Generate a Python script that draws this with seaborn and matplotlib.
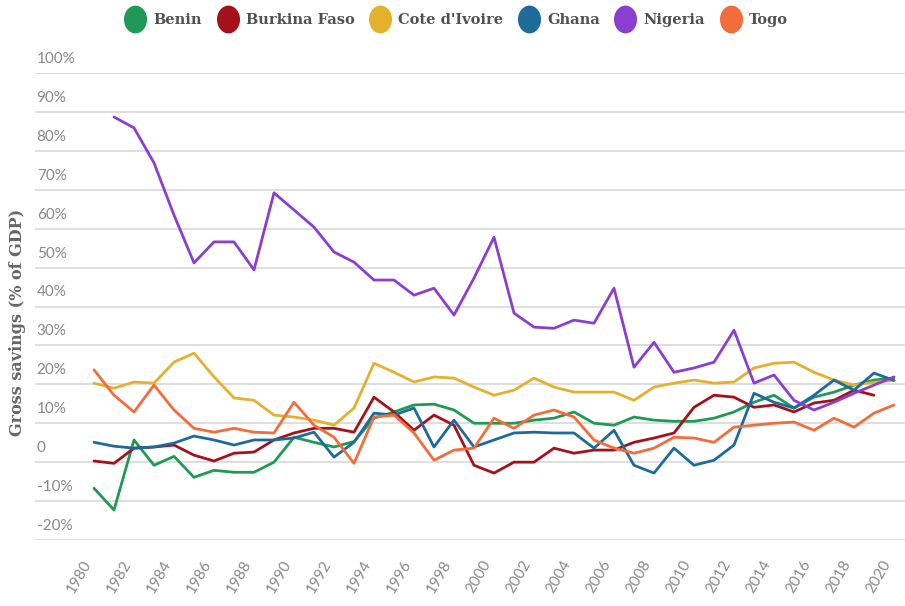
import matplotlib
matplotlib.use("Agg")
import matplotlib.pyplot as plt
import matplotlib.transforms as mtransforms
from matplotlib.lines import Line2D
from matplotlib.markers import MarkerStyle
import numpy as np
import pandas as pd
import seaborn as sns

years = list(range(1980, 2021))
countries = ["Benin", "Burkina Faso", "Cote d'Ivoire", "Ghana", "Nigeria", "Togo"]
colors = ["#1f9a55", "#a3121b", "#e3b12c", "#1d6b99", "#8a3fd1", "#f36c3c"]

nan = np.nan
benin = [-6.7, -12.3, 5.7, -0.8, 1.5, -3.9, -2.1, -2.6, -2.6, 0.0,
         6.4, 5.1, 3.9, 5.3, 11.3, 12.9, 14.7, 14.9, 13.4, 10.0,
         10.0, 10.0, 10.8, 11.3, 12.9, 10.0, 9.5, 11.6, 10.8, 10.5,
         10.5, 11.3, 12.9, 15.4, 17.2, 13.9, 16.7, 18.0, 19.8, 21.1, 21.6]
burkina = [0.3, -0.3, 3.6, 3.9, 4.4, 1.8, 0.3, 2.3, 2.6, 5.7,
           7.5, 8.7, 8.7, 7.7, 16.7, 12.9, 8.2, 12.1, 9.5, -0.8,
           -2.8, 0.0, 0.0, 3.6, 2.3, 3.1, 3.1, 5.1, 6.2, 7.5,
           14.1, 17.2, 16.7, 14.1, 14.7, 12.9, 15.2, 15.9, 18.5, 17.2, nan]
cote = [20.3, 19.0, 20.6, 20.3, 25.7, 28.0, 21.9, 16.5, 15.9, 12.1,
        11.6, 10.8, 9.5, 13.9, 25.4, 23.1, 20.6, 21.9, 21.6, 19.3,
        17.2, 18.5, 21.6, 19.3, 18.0, 18.0, 18.0, 15.9, 19.3, 20.3,
        21.1, 20.3, 20.6, 24.2, 25.4, 25.7, 23.1, 21.1, 19.8, 20.5, 21.0]
ghana = [5.1, 4.1, 3.6, 3.9, 4.9, 6.7, 5.7, 4.4, 5.7, 5.7,
         6.2, 7.7, 1.3, 5.1, 12.6, 12.1, 13.9, 3.9, 10.8, 3.9,
         5.7, 7.5, 7.7, 7.5, 7.5, 3.6, 8.2, -0.8, -2.8, 3.6,
         -0.8, 0.5, 4.4, 17.7, 15.4, 13.9, 17.2, 21.1, 18.5, 22.9, 21.0]
nigeria = [nan, 88.7, 85.9, 76.9, 63.5, 51.2, 56.6, 56.6, 49.4, 69.2,
           64.8, 60.4, 54.0, 51.4, 46.8, 46.8, 42.9, 44.7, 37.8, 47.3,
           57.8, 38.3, 34.7, 34.4, 36.5, 35.7, 44.7, 24.4, 30.8, 23.1,
           24.2, 25.7, 33.9, 20.3, 22.4, 15.9, 13.4, 15.4, 17.7, 19.8, 21.9]
togo = [23.7, 17.2, 12.9, 19.8, 13.4, 8.7, 7.7, 8.7, 7.7, 7.5,
        15.4, 9.5, 6.4, -0.3, 11.6, 12.1, 7.5, 0.5, 3.1, 3.6,
        11.3, 8.7, 12.1, 13.4, 11.6, 5.7, 3.6, 2.3, 3.6, 6.4,
        6.2, 5.1, 9.0, 9.5, 10.0, 10.3, 8.2, 11.3, 9.0, 12.6, 14.7]

y_ticks = [-20, -10, 0, 10, 20, 30, 40, 50, 60, 70, 80, 90, 100]
y_tick_labels = ["-20%", "-10%", "0", "10%", "20%", "30%", "40%", "50%",
                 "60%", "70%", "80%", "90%", "100%"]
x_ticks = list(range(1980, 2021, 2))
x_tick_labels = [str(y) for y in x_ticks]

series = [benin, burkina, cote, ghana, nigeria, togo]
rows = []
for name, vals in zip(countries, series):
    for yr, v in zip(years, vals):
        rows.append({"year": yr, "value": v, "country": name})
df = pd.DataFrame(rows).dropna()

sns.set_style("white")
fig = plt.figure(figsize=(9.05, 6.06), dpi=100)
W, H = 905, 606
ax = fig.add_axes([35 / W, 1 - 540 / H, 1 - 35 / W, (540 - 73) / H])

sns.lineplot(data=df, x="year", y="value", hue="country", hue_order=countries,
             palette=colors, linewidth=2.0, ax=ax, legend=False)

ax.set_xlim(1980 - 59 / 20, 1980 + 811 / 20)
ax.set_ylim(-20, 100)
for sp in ax.spines.values():
    sp.set_visible(False)
ax.set_yticks([])
for t in y_ticks:
    ax.axhline(t, color="#dedede", linewidth=1.4, zorder=0)
trans = mtransforms.blended_transform_factory(ax.transAxes, ax.transData)
for t, lab in zip(y_ticks, y_tick_labels):
    ax.text(0.002, t + 1.8, lab, transform=trans, ha="left", va="bottom",
            fontsize=11, color="#888888", family="Lato")

ax.set_xticks(x_ticks)
ax.set_xticklabels(x_tick_labels, rotation=60, ha="right", va="top",
                   fontsize=11, color="#888888", family="Lato")
ax.tick_params(axis="x", length=0, pad=13)
ax.set_xlabel("")
ax.set_ylabel("")

fig.text(18 / W, 1 - 322 / H, "Gross savings (% of GDP)", rotation=90,
         ha="center", va="center", fontsize=11.5, fontweight="bold",
         color="#666666", family="DejaVu Serif")

oval = MarkerStyle("o", transform=mtransforms.Affine2D().scale(0.82, 1.0))
handles = [Line2D([], [], marker=oval, linestyle="", markersize=19, color=c,
                  label=n) for n, c in zip(countries, colors)]
leg = fig.legend(handles=handles, loc="center", bbox_to_anchor=(455 / W, 1 - 20 / H),
                 ncol=6, frameon=False, handletextpad=0.35, columnspacing=0.85,
                 handlelength=1.8,
                 prop={"family": "DejaVu Serif", "size": 10.5, "weight": "semibold"})
for txt in leg.get_texts():
    txt.set_color("#505050")

fig.savefig("out.png", dpi=100, facecolor="white")
